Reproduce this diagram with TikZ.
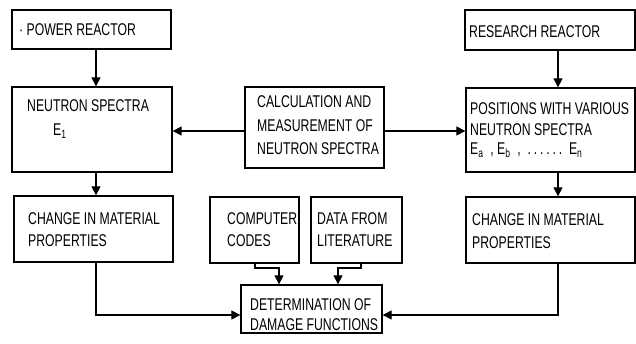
\documentclass[tikz,border=0pt]{standalone}
\usepackage{fontspec}
\setmainfont{Liberation Sans}[FakeStretch=0.72]
\usetikzlibrary{arrows.meta,calc}
\begin{document}
\begin{tikzpicture}[x=1pt,y=-1pt,
  box/.style={draw,line width=1.3pt,inner sep=0pt},
  lbl/.style={anchor=base west,inner sep=0pt,font=\fontsize{17}{20}\selectfont},
  arr/.style={line width=1.2pt,-{Triangle[length=9pt,width=9pt]}},
  conn/.style={line width=1.2pt}]
\useasboundingbox (0,0) rectangle (636,344);
% boxes
\node[box,minimum width=159pt,minimum height=39pt] (pr) at (91.5,29.5) {};
\node[box,minimum width=160pt,minimum height=85pt] (ns) at (92,129.5) {};
\node[box,minimum width=139pt,minimum height=81pt] (calc) at (314.5,127.5) {};
\node[box,minimum width=170pt,minimum height=40pt] (rr) at (550,30) {};
\node[box,minimum width=169pt,minimum height=84pt] (pos) at (550.5,130) {};
\node[box,minimum width=159pt,minimum height=66pt] (chl) at (93.5,229) {};
\node[box,minimum width=89pt,minimum height=66pt] (comp) at (254.5,230) {};
\node[box,minimum width=91pt,minimum height=66pt] (data) at (356.5,230) {};
\node[box,minimum width=141pt,minimum height=48pt] (det) at (311.5,309) {};
\node[box,minimum width=169pt,minimum height=66pt] (chr) at (550.5,230) {};
% texts
\node[lbl] (t1) at (19,36) {· POWER REACTOR};
\node[lbl] (t2) at (27,112) {NEUTRON SPECTRA};
\node[lbl] (t3) at (53,136) {E\textsubscript{1}};
\node[lbl] (t4) at (257,108) {CALCULATION AND};
\node[lbl] (t5) at (257,132) {MEASUREMENT OF};
\node[lbl] (t6) at (257,155) {NEUTRON SPECTRA};
\node[lbl] (t7) at (469,38) {RESEARCH REACTOR};
\node[lbl] (t8) at (470,115) {POSITIONS WITH VARIOUS};
\node[lbl] (t9) at (470,136) {NEUTRON SPECTRA};
\node[lbl] (t10) at (470,155) {E\textsubscript{a}\ \ ,\ E\textsubscript{b}\ \ ,\ \ .\,.\,.\,.\,.\,.\ \ E\textsubscript{n}};
\node[lbl] (t11) at (28,225) {CHANGE IN MATERIAL};
\node[lbl] (t12) at (28,247) {PROPERTIES};
\node[lbl] (t13) at (227,225) {COMPUTER};
\node[lbl] (t14) at (227,247) {CODES};
\node[lbl] (t15) at (317,225) {DATA FROM};
\node[lbl] (t16) at (317,247) {LITERATURE};
\node[lbl] (t17) at (250,310) {DETERMINATION OF};
\node[lbl] (t18) at (250,330) {DAMAGE FUNCTIONS};
\node[lbl] (t19) at (472,226) {CHANGE IN MATERIAL};
\node[lbl] (t20) at (472,248) {PROPERTIES};
% connectors
\coordinate (xl) at (96,0);
\coordinate (xr) at (558,0);
\draw[arr] (pr.south -| xl) -- (ns.north -| xl);
\draw[arr] (ns.south -| xl) -- (chl.north -| xl);
\draw[arr] (rr.south -| xr) -- (pos.north -| xr);
\draw[arr] (pos.south -| xr) -- (chr.north -| xr);
\coordinate (ym) at (0,131);
\draw[arr] (calc.west |- ym) -- (ns.east |- ym);
\draw[arr] (calc.east |- ym) -- (pos.west |- ym);
\coordinate (yd) at (0,315);
\draw[arr] (chl.south -| xl) -- (xl |- yd) -- (det.west |- yd);
\draw[arr] (chr.south -| xr) -- (xr |- yd) -- (det.east |- yd);
\coordinate (ye) at (0,268);
\coordinate (c1) at (255,0);
\coordinate (c2) at (279,0);
\coordinate (d1) at (361,0);
\coordinate (d2) at (338,0);
\draw[arr] (comp.south -| c1) -- (c1 |- ye) -- (c2 |- ye) -- (det.north -| c2);
\draw[arr] (data.south -| d1) -- (d1 |- ye) -- (d2 |- ye) -- (det.north -| d2);
\end{tikzpicture}
\end{document}
